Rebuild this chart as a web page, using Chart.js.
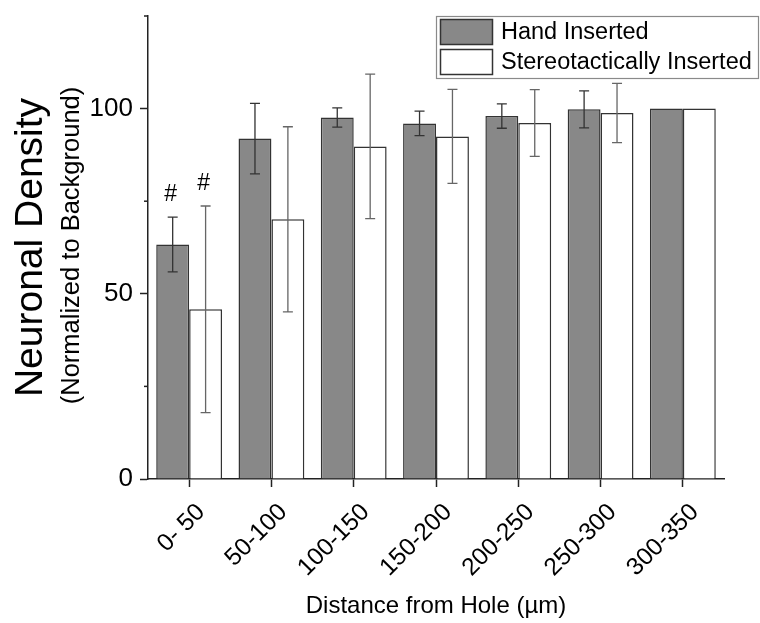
<!DOCTYPE html>
<html>
<head>
<meta charset="utf-8">
<title>Neuronal Density</title>
<script src="https://cdn.jsdelivr.net/npm/chart.js@4.4.1/dist/chart.umd.min.js"></script>
<style>
  html, body { margin: 0; padding: 0; background: #fff; }
  #wrap { width: 760px; height: 623px; }
</style>
</head>
<body>
<div id="wrap"><canvas id="myChart" width="760" height="623"></canvas></div>
<script>
// data
const categories = ["0- 50", "50-100", "100-150", "150-200", "200-250", "250-300", "300-350"];
const handValues = [63.3, 91.9, 97.6, 96.0, 98.0, 99.8, 100];
const handErrors = [7.4, 9.5, 2.6, 3.3, 3.3, 5.0, 0];
const stereoValues = [45.8, 70.1, 89.8, 92.5, 96.1, 98.8, 100];
const stereoErrors = [27.9, 25.0, 19.5, 12.7, 9.0, 8.0, 0];
const handMarks = ["#", "", "", "", "", "", ""];
const stereoMarks = ["#", "", "", "", "", "", ""];
const yLabelValues = [0, 50, 100];

const FONT = "'Liberation Sans', Arial, sans-serif";

// error bars + "#" marks, drawn from the bar elements and the y scale
const errorBars = {
  id: "errorBars",
  afterDatasetsDraw(chart) {
    const ctx = chart.ctx;
    const y = chart.scales.y;
    chart.data.datasets.forEach(function (ds, i) {
      const meta = chart.getDatasetMeta(i);
      meta.data.forEach(function (bar, j) {
        const v = ds.data[j];
        const e = ds.errors[j];
        const top = y.getPixelForValue(v + e);
        if (e > 0) {
          const bot = y.getPixelForValue(v - e);
          ctx.save();
          ctx.strokeStyle = ds.errorColor;
          ctx.lineWidth = 1.3;
          ctx.beginPath();
          ctx.moveTo(bar.x, top);
          ctx.lineTo(bar.x, bot);
          ctx.moveTo(bar.x - 5, top);
          ctx.lineTo(bar.x + 5, top);
          ctx.moveTo(bar.x - 5, bot);
          ctx.lineTo(bar.x + 5, bot);
          ctx.stroke();
          ctx.restore();
        }
        if (ds.marks[j]) {
          ctx.save();
          ctx.fillStyle = "#000";
          ctx.font = "23px " + FONT;
          ctx.textAlign = "center";
          ctx.textBaseline = "middle";
          ctx.fillText(ds.marks[j], bar.x - 2, top - 22);
          ctx.restore();
        }
      });
    });
  },
};

// short minor ticks on the y axis
const minorTicks = {
  id: "minorTicks",
  afterDraw(chart) {
    const ctx = chart.ctx;
    const y = chart.scales.y;
    ctx.save();
    ctx.strokeStyle = "#222";
    ctx.lineWidth = 1.5;
    y.ticks.forEach(function (t) {
      if (yLabelValues.indexOf(t.value) === -1) {
        const py = y.getPixelForValue(t.value);
        ctx.beginPath();
        ctx.moveTo(y.right - 4, py);
        ctx.lineTo(y.right, py);
        ctx.stroke();
      }
    });
    ctx.restore();
  },
};

// two line y title
const yTitle = {
  id: "yTitle",
  afterDraw(chart) {
    const ctx = chart.ctx;
    const area = chart.chartArea;
    const cy = (area.top + area.bottom) / 2;
    ctx.save();
    ctx.fillStyle = "#000";
    ctx.textAlign = "center";
    ctx.textBaseline = "middle";
    ctx.translate(31, cy);
    ctx.rotate(-Math.PI / 2);
    ctx.font = "39px " + FONT;
    ctx.fillText("Neuronal Density", 0, 0);
    ctx.restore();
    ctx.save();
    ctx.fillStyle = "#000";
    ctx.textAlign = "center";
    ctx.textBaseline = "middle";
    ctx.translate(72, cy - 2);
    ctx.rotate(-Math.PI / 2);
    ctx.font = "25.5px " + FONT;
    ctx.fillText("(Normalized to Background)", 0, 0);
    ctx.restore();
  },
};

// boxed legend in the top right corner
const boxLegend = {
  id: "boxLegend",
  afterDraw(chart) {
    const ctx = chart.ctx;
    const x0 = 436, y0 = 16, w = 323, h = 63;
    ctx.save();
    ctx.fillStyle = "#fff";
    ctx.fillRect(x0, y0, w, h);
    ctx.strokeStyle = "#8a8a8a";
    ctx.lineWidth = 1.2;
    ctx.strokeRect(x0 + 0.5, y0 + 0.5, w - 1, h - 1);
    chart.data.datasets.forEach(function (ds, i) {
      const sy = y0 + 3 + i * 30;
      ctx.fillStyle = ds.backgroundColor;
      ctx.fillRect(440, sy, 53, 26);
      ctx.strokeStyle = "#333";
      ctx.lineWidth = 1.5;
      ctx.strokeRect(440.5, sy + 0.5, 52, 25);
      ctx.fillStyle = "#000";
      ctx.font = "23.5px " + FONT;
      ctx.textAlign = "left";
      ctx.textBaseline = "middle";
      ctx.fillText(ds.label, 501, sy + 14);
    });
    ctx.restore();
  },
};

var ctx = document.getElementById("myChart").getContext("2d");
var myChart = new Chart(ctx, {
  type: "bar",
  data: {
    labels: categories,
    datasets: [
      {
        label: "Hand Inserted",
        data: handValues,
        errors: handErrors,
        marks: handMarks,
        errorColor: "#333",
        backgroundColor: "#888888",
        borderColor: "#333",
        borderWidth: 1.5,
        categoryPercentage: 0.8,
        barPercentage: 1.0,
      },
      {
        label: "Stereotactically Inserted",
        data: stereoValues,
        errors: stereoErrors,
        marks: stereoMarks,
        errorColor: "#666",
        backgroundColor: "#ffffff",
        borderColor: "#333",
        borderWidth: 1.5,
        categoryPercentage: 0.8,
        barPercentage: 1.0,
      },
    ],
  },
  options: {
    responsive: false,
    animation: false,
    devicePixelRatio: 1,
    layout: {
      padding: { left: 0, top: 16, right: 36, bottom: 0 },
    },
    scales: {
      x: {
        offset: true,
        grid: {
          offset: false,
          drawOnChartArea: false,
          tickLength: 8,
          tickColor: "#222",
          tickWidth: 1.5,
        },
        border: { color: "#222", width: 1.5 },
        ticks: {
          color: "#000",
          minRotation: 45,
          maxRotation: 45,
          padding: 11,
          labelOffset: 12,
          font: { family: FONT, size: 24.5 },
        },
        title: {
          display: true,
          text: "Distance from Hole (\u00b5m)",
          color: "#000",
          padding: { top: 0, bottom: 2 },
          font: { family: FONT, size: 24 },
        },
        afterFit: function (scale) {
          scale.height = 144;
        },
      },
      y: {
        min: 0,
        max: 125,
        grid: {
          drawOnChartArea: false,
          tickLength: 8,
          tickWidth: 1.5,
          tickColor: function (c) {
            return yLabelValues.indexOf(c.tick.value) === -1 ? "rgba(0,0,0,0)" : "#222";
          },
        },
        border: { color: "#222", width: 1.5 },
        ticks: {
          stepSize: 25,
          color: "#000",
          padding: 7,
          font: { family: FONT, size: 26 },
          callback: function (value) {
            return yLabelValues.indexOf(value) === -1 ? "" : value;
          },
        },
        afterFit: function (scale) {
          scale.width = 148;
          scale.paddingTop = 0;
          scale.paddingBottom = 0;
        },
      },
    },
    plugins: {
      legend: { display: false },
      tooltip: { enabled: false },
    },
  },
  plugins: [errorBars, minorTicks, yTitle, boxLegend],
});
</script>
</body>
</html>
